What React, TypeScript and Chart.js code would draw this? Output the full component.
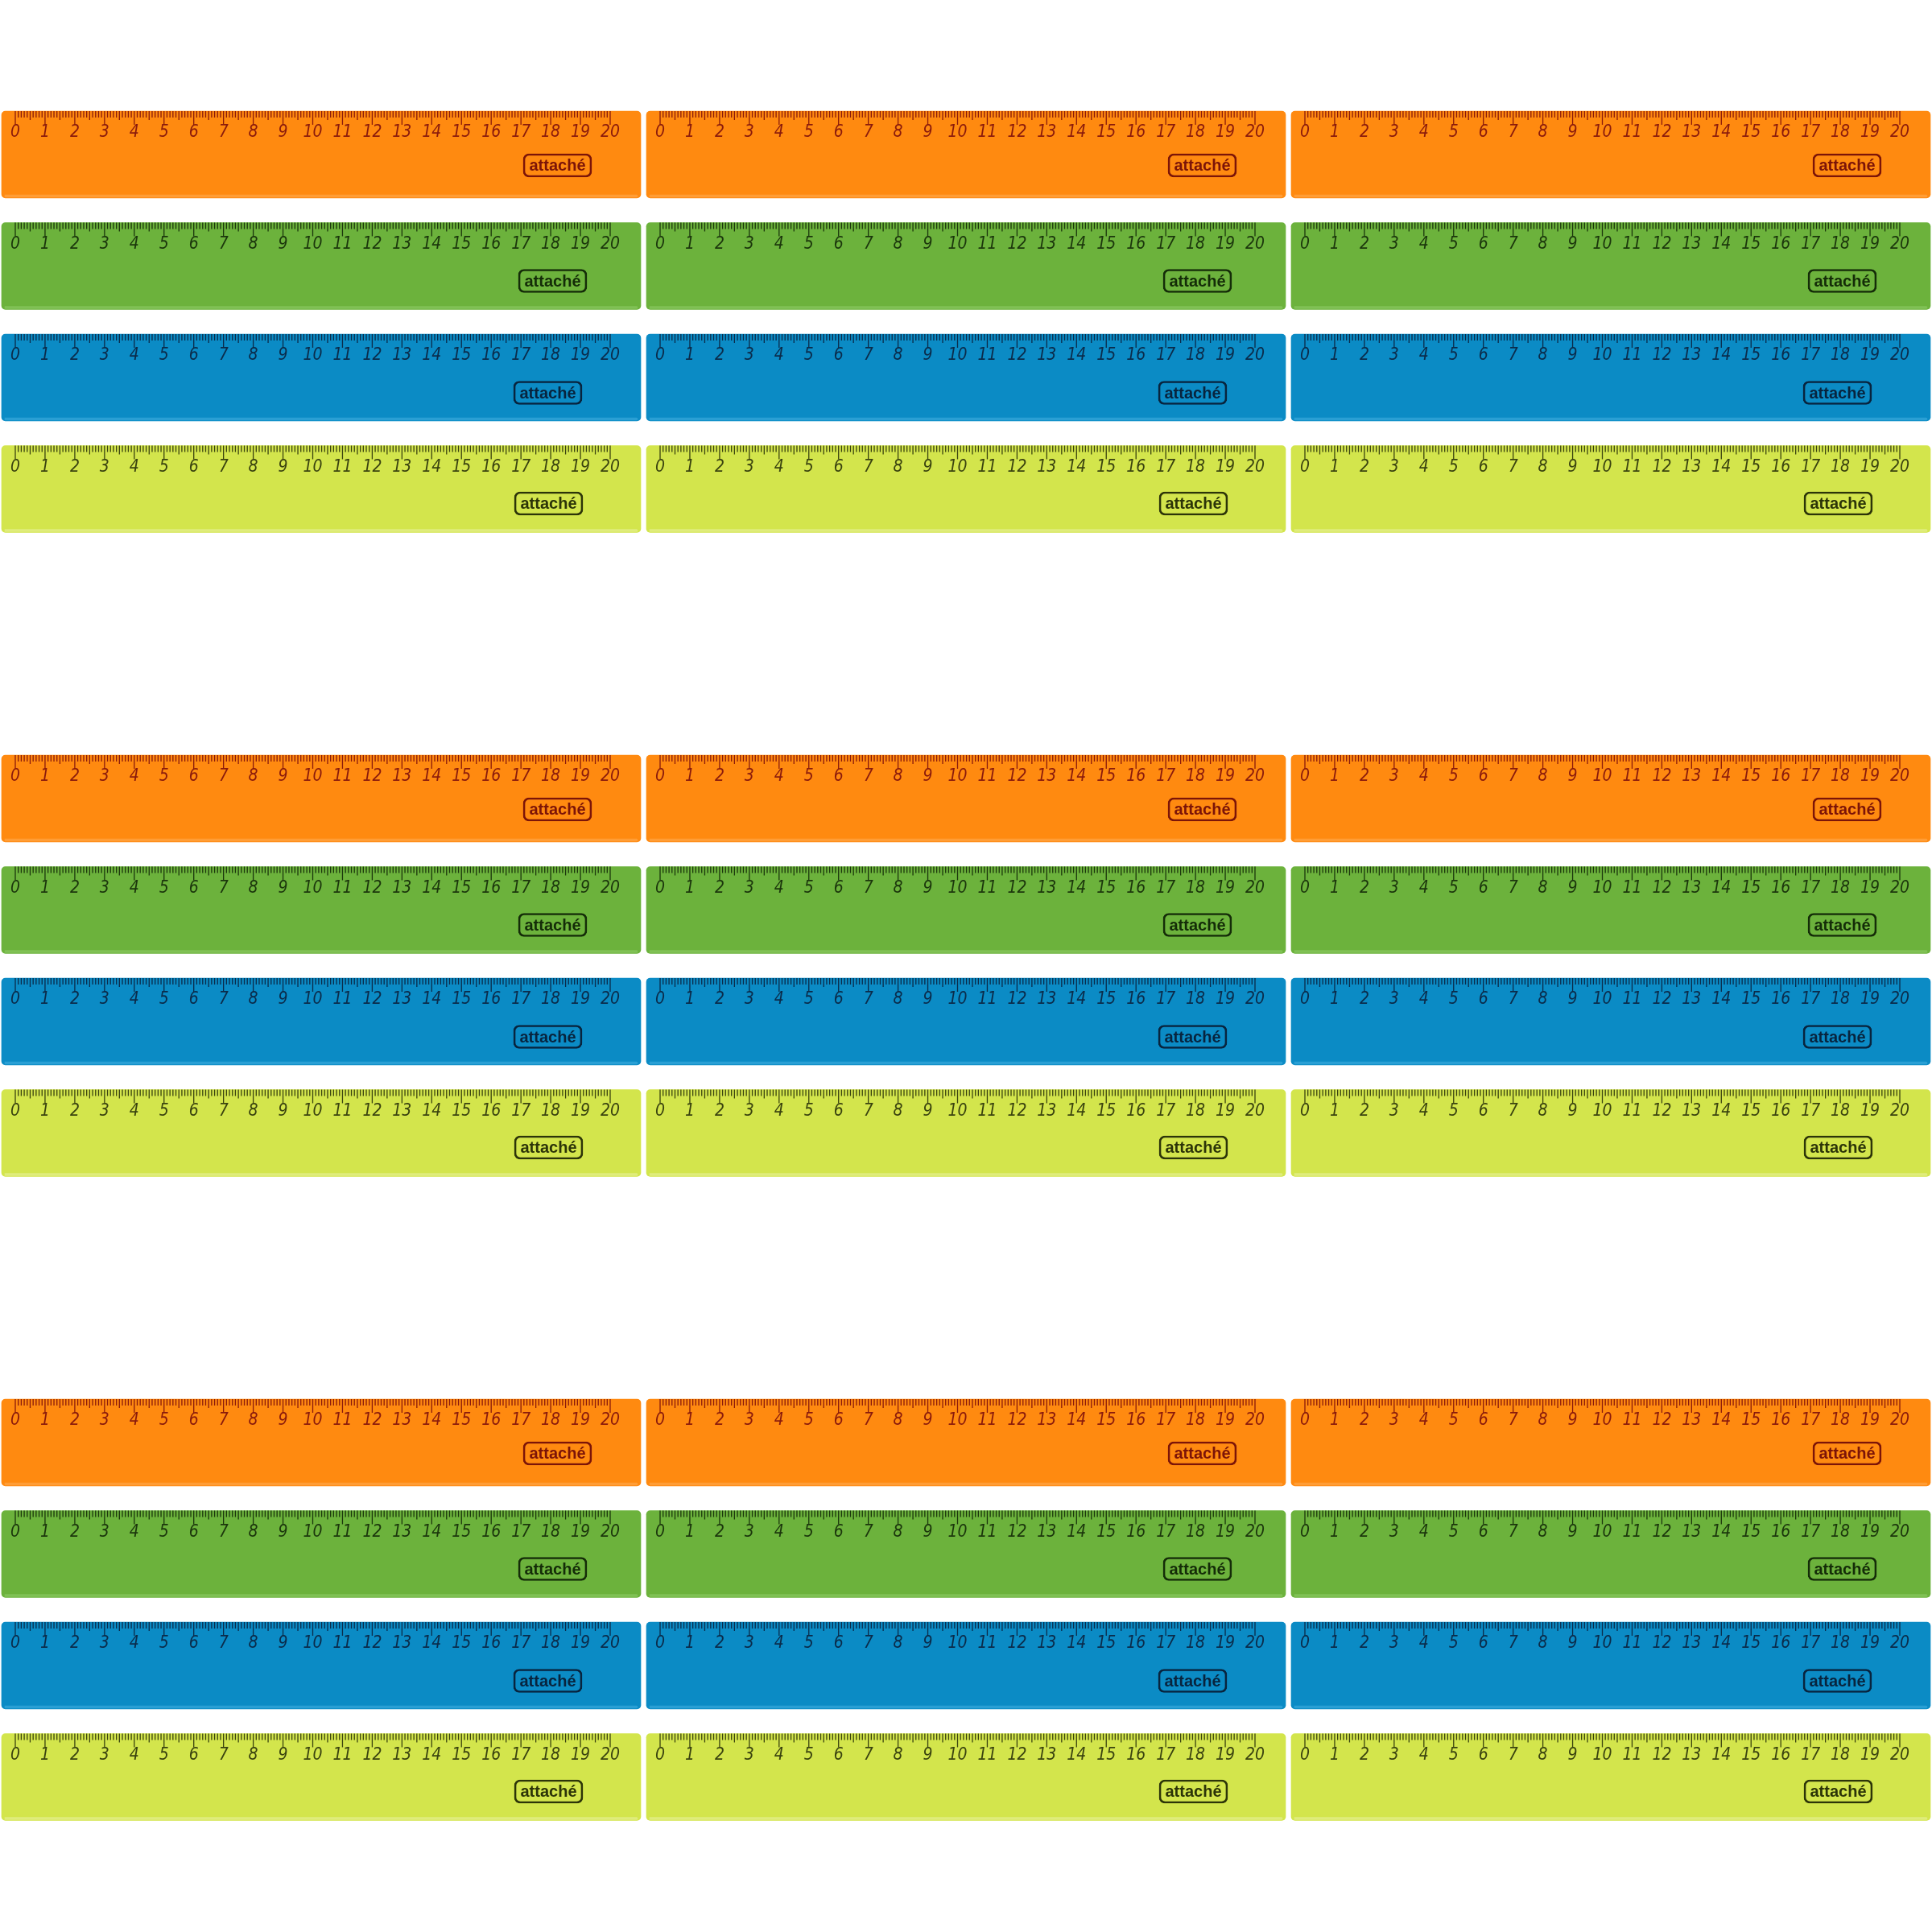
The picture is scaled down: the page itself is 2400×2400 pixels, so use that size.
import React, { useEffect, useRef } from "react";
import { Chart, registerables } from "chart.js";

Chart.register(...registerables);

// ---------- DATA ----------
const CM_LABELS = ["0", "1", "2", "3", "4", "5", "6", "7", "8", "9", "10", "11", "12", "13", "14", "15", "16", "17", "18", "19", "20"];
const MM_PER_CM = 10;
const RULER_NAMES = ["Orange", "Green", "Blue", "Yellow"];
const BRAND = "attaché";
const GROUP_COUNT = 3;
const COLUMN_COUNT = 3;

// ---------- STYLE / LAYOUT ----------
const RULER_FILL = ["#ff8a10", "#6cb23c", "#0b8bc5", "#d3e54c"];
const RULER_EDGE = ["#ff9d36", "#80c155", "#2a9fd4", "#dfec7c"];
const RULER_INK = ["#8a1a0c", "#1b360c", "#0b2b4a", "#3a430f"];
const BADGE_INK = ["#7c1408", "#142c08", "#08243e", "#2c3408"];

const SIZE = 2400;
const PX_PER_CM = 36.95;
const ORIGIN_PX = 19; // pixel of the first ruler's zero mark
const COL_STEP_PX = 801;
const GROUP_TOPS = [138, 938, 1738];
const ROW_STEP = 138.5;
const RULER_H = 108;
const RULER_START_PX = -17;
const RULER_END_PX = 777;
const BADGE_X0 = [631, 625, 619, 620];
const BADGE_W = 85;
const BADGE_CY = [67.5, 72.5, 73, 72];
const BADGE_H = 29;
const TICK_LEN = { mm: 8, half: 11, cm: 17 };
const LABEL_Y = 27;

const pxToCm = (px: number) => px / PX_PER_CM;

type Slot = { color: number; group: number; col: number; top: number; colCm: number };

function buildSlots(): Slot[] {
  const slots: Slot[] = [];
  for (let g = 0; g < GROUP_COUNT; g++) {
    for (let r = 0; r < RULER_NAMES.length; r++) {
      for (let c = 0; c < COLUMN_COUNT; c++) {
        slots.push({
          color: r,
          group: g,
          col: c,
          top: GROUP_TOPS[g] + r * ROW_STEP,
          colCm: pxToCm(c * COL_STEP_PX),
        });
      }
    }
  }
  return slots;
}

const rulerTextPlugin = {
  id: "rulerText",
  afterDatasetsDraw(chart: any) {
    const { ctx } = chart;
    const xs = chart.scales.x;
    const ys = chart.scales.y;
    const slots = buildSlots();
    ctx.save();
    ctx.textAlign = "center";
    ctx.textBaseline = "middle";
    for (const s of slots) {
      ctx.fillStyle = RULER_INK[s.color];
      ctx.font = "italic 21px 'Liberation Sans Narrow', 'DejaVu Sans Condensed', sans-serif";
      CM_LABELS.forEach((lab, k) => {
        ctx.fillText(lab, xs.getPixelForValue(s.colCm + k), ys.getPixelForValue(s.top + LABEL_Y));
      });
      ctx.fillStyle = BADGE_INK[s.color];
      ctx.font = "bold 20px 'Liberation Sans', Arial, sans-serif";
      const bx = pxToCm(BADGE_X0[s.color] + BADGE_W / 2);
      ctx.fillText(BRAND, xs.getPixelForValue(s.colCm + bx), ys.getPixelForValue(s.top + BADGE_CY[s.color] + 1));
    }
    ctx.restore();
  },
};

export default function App() {
  const ref = useRef<HTMLCanvasElement | null>(null);

  useEffect(() => {
    if (!ref.current) return;
    const slots = buildSlots();
    const datasets: any[] = [];

    RULER_NAMES.forEach((name, ci) => {
      const mine = slots.filter((s) => s.color === ci);
      const tickSets: Record<string, { x: number; y: number }[]> = { mm: [], half: [], cm: [] };
      mine.forEach((s) => {
        for (let cm = 0; cm < CM_LABELS.length; cm++) {
          for (let m = 0; m < MM_PER_CM; m++) {
            if (cm === CM_LABELS.length - 1 && m > 0) break;
            const kind = m === 0 ? "cm" : m === 5 ? "half" : "mm";
            const len = TICK_LEN[kind as keyof typeof TICK_LEN];
            tickSets[kind].push({ x: s.colCm + cm + m / MM_PER_CM, y: s.top + len / 2 });
          }
        }
      });
      (["mm", "half", "cm"] as const).forEach((kind) => {
        datasets.push({
          type: "scatter",
          label: `${name} ${kind} ticks`,
          data: tickSets[kind],
          pointStyle: "line",
          rotation: 90,
          radius: TICK_LEN[kind] / 2,
          borderWidth: 1.3,
          borderColor: RULER_INK[ci],
          backgroundColor: RULER_INK[ci],
          showLine: false,
          order: 0,
        });
      });
      datasets.push({
        type: "bar",
        label: `${name} badge`,
        indexAxis: "y",
        grouped: false,
        barThickness: BADGE_H,
        data: mine.map((s) => ({
          x: [s.colCm + pxToCm(BADGE_X0[ci]), s.colCm + pxToCm(BADGE_X0[ci] + BADGE_W)],
          y: s.top + BADGE_CY[ci],
        })),
        backgroundColor: "rgba(0,0,0,0)",
        borderColor: BADGE_INK[ci],
        borderWidth: 2,
        borderRadius: 7,
        borderSkipped: false,
        order: 1,
      });
      datasets.push({
        type: "bar",
        label: `${name} edge`,
        indexAxis: "y",
        grouped: false,
        barThickness: 3,
        data: mine.map((s) => ({
          x: [s.colCm + pxToCm(RULER_START_PX + 4), s.colCm + pxToCm(RULER_END_PX - 4)],
          y: s.top + RULER_H - 2.5,
        })),
        backgroundColor: RULER_EDGE[ci],
        borderWidth: 0,
        borderRadius: 1.5,
        order: 2,
      });
      datasets.push({
        type: "bar",
        label: `${name} ruler`,
        indexAxis: "y",
        grouped: false,
        barThickness: RULER_H,
        data: mine.map((s) => ({
          x: [s.colCm + pxToCm(RULER_START_PX), s.colCm + pxToCm(RULER_END_PX)],
          y: s.top + RULER_H / 2,
        })),
        backgroundColor: RULER_FILL[ci],
        borderWidth: 0,
        borderRadius: 5,
        borderSkipped: false,
        order: 3,
      });
    });

    const chart = new Chart(ref.current, {
      type: "scatter",
      data: { datasets },
      options: {
        animation: false,
        responsive: false,
        devicePixelRatio: 1,
        events: [],
        layout: { padding: 0, autoPadding: false },
        plugins: { legend: { display: false }, tooltip: { enabled: false }, title: { display: false } },
        scales: {
          x: {
            type: "linear",
            display: false,
            offset: false,
            min: pxToCm(-ORIGIN_PX),
            max: pxToCm(SIZE - ORIGIN_PX),
          },
          y: {
            type: "linear",
            display: false,
            offset: false,
            reverse: true,
            min: 0,
            max: SIZE,
          },
        },
      },
      plugins: [rulerTextPlugin],
    } as any);
    return () => chart.destroy();
  }, []);

  return (
    <div style={{ position: "absolute", left: 0, top: 0, width: SIZE, height: SIZE, background: "#ffffff" }}>
      <canvas ref={ref} width={SIZE} height={SIZE} style={{ display: "block", width: SIZE, height: SIZE }} />
    </div>
  );
}
